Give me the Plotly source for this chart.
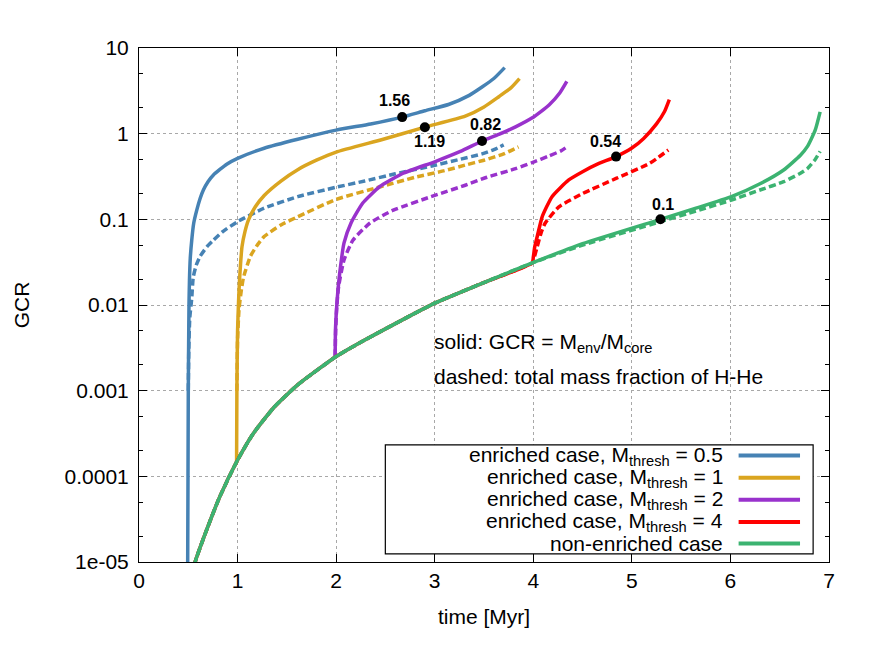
import math
import plotly.graph_objects as go

# ---------------- data (time in Myr, GCR) ----------------
green_x = [0.55, 0.57, 0.69, 0.82, 1.0, 1.16, 1.37, 1.61, 2.0, 2.29, 3.0, 3.48, 3.99,
           4.5, 5.29, 5.65, 6.01, 6.3, 6.54, 6.71, 6.78, 6.86, 6.91]
green_solid_y = [7e-6, 1e-5, 2.43e-5, 5.8e-5, 1.55e-4, 3.17e-4, 6.4e-4, 0.00117, 0.0025,
                 0.0039, 0.0105, 0.0179, 0.031, 0.052, 0.1, 0.135, 0.184, 0.26, 0.377, 0.56,
                 0.705, 1.1, 1.8]
green_dash_y = [7e-6, 1e-5, 2.43e-5, 5.8e-5, 1.55e-4, 3.17e-4, 6.4e-4, 0.00117, 0.0025,
                0.0039, 0.0105, 0.0179, 0.031, 0.050, 0.094, 0.125, 0.168, 0.22, 0.275, 0.345,
                0.39, 0.50, 0.62]

blue_solid_x = [0.49, 0.494, 0.50, 0.507, 0.512, 0.52, 0.535, 0.555, 0.586, 0.62, 0.653, 0.70,
                0.755, 0.89, 1.0, 1.27, 1.61, 2.0, 2.35, 2.67, 2.9, 3.14, 3.35, 3.48, 3.6, 3.71]
blue_solid_y = [5e-6, 1e-5, 0.001, 0.01, 0.0196, 0.035, 0.057, 0.09, 0.128, 0.175, 0.22, 0.275,
                0.33, 0.44, 0.515, 0.676, 0.86, 1.10, 1.3, 1.56, 1.85, 2.19, 2.8, 3.5, 4.4, 5.9]
blue_dash_x = [0.50, 0.505, 0.515, 0.535, 0.55, 0.58, 0.62, 0.69, 0.755, 0.85, 1.0, 1.27, 1.61,
               2.0, 2.29, 2.6, 2.97, 3.25, 3.48, 3.6, 3.70]
blue_dash_y = [0.001, 0.003, 0.007, 0.012, 0.021, 0.029, 0.037, 0.048, 0.057, 0.072, 0.094, 0.135,
               0.184, 0.237, 0.28, 0.34, 0.42, 0.5, 0.58, 0.65, 0.74]

yellow_solid_x = [0.99, 0.993, 1.0, 1.01, 1.02, 1.045, 1.075, 1.11, 1.18, 1.27, 1.44, 1.61, 1.8,
                  2.0, 2.46, 2.90, 3.31, 3.5, 3.65, 3.77, 3.86]
yellow_solid_y = [1.5e-4, 0.001, 0.005, 0.011, 0.0196, 0.048, 0.072, 0.098, 0.14, 0.19, 0.28,
                  0.38, 0.49, 0.61, 0.85, 1.19, 1.6, 2.05, 2.7, 3.4, 4.4]
yellow_dash_x = [0.993, 1.0, 1.015, 1.035, 1.06, 1.13, 1.2, 1.27, 1.44, 1.61, 2.0, 2.45, 2.80,
                 3.1, 3.31, 3.5, 3.7, 3.85]
yellow_dash_y = [0.001, 0.004, 0.009, 0.014, 0.021, 0.037, 0.05, 0.063, 0.086, 0.107, 0.171, 0.24,
                 0.31, 0.37, 0.43, 0.49, 0.58, 0.70]

purple_solid_x = [1.99, 1.993, 2.0, 2.01, 2.04, 2.08, 2.15, 2.27, 2.44, 2.68, 3.0, 3.26, 3.48,
                  3.65, 3.82, 3.99, 4.16, 4.27, 4.34]
purple_solid_y = [0.0025, 0.005, 0.0075, 0.0114, 0.0256, 0.053, 0.09, 0.155, 0.24, 0.345, 0.47,
                  0.62, 0.82, 0.98, 1.2, 1.53, 2.16, 3.0, 4.07]
purple_dash_x = [1.99, 1.995, 2.005, 2.025, 2.08, 2.17, 2.34, 2.58, 3.0, 3.31, 3.53, 3.82, 3.99,
                 4.16, 4.28, 4.34]
purple_dash_y = [0.0025, 0.005, 0.009, 0.0164, 0.0336, 0.057, 0.09, 0.128, 0.19, 0.25, 0.31,
                 0.39, 0.46, 0.55, 0.63, 0.70]

red_solid_x = green_x[:13] + [4.0, 4.015, 4.04, 4.09, 4.19, 4.36, 4.5, 4.65, 4.84, 5.0, 5.12,
                              5.25, 5.33, 5.38]
red_solid_y = green_solid_y[:13] + [0.036, 0.048, 0.063, 0.107, 0.184, 0.288, 0.36, 0.44, 0.54,
                                    0.68, 0.88, 1.3, 1.8, 2.5]
red_dash_x = green_x[:13] + [4.01, 4.04, 4.08, 4.12, 4.26, 4.50, 4.84, 5.18, 5.37]
red_dash_y = green_dash_y[:13] + [0.036, 0.048, 0.07, 0.09, 0.14, 0.20, 0.30, 0.45, 0.645]

mark_x = [2.67, 2.90, 3.48, 4.84, 5.29]
mark_y = [1.56, 1.19, 0.82, 0.54, 0.1]
mark_text = ["1.56", "1.19", "0.82", "0.54", "0.1"]

legend_labels = ["enriched case, M<sub>thresh</sub> = 0.5",
                 "enriched case, M<sub>thresh</sub> = 1",
                 "enriched case, M<sub>thresh</sub> = 2",
                 "enriched case, M<sub>thresh</sub> = 4",
                 "non-enriched case"]

x_ticks = [0, 1, 2, 3, 4, 5, 6, 7]
y_ticks = [1e-5, 1e-4, 1e-3, 1e-2, 1e-1, 1, 10]
y_ticktext = ["1e-05", "0.0001", "0.001", "0.01", "0.1", "1", "10"]

# ---------------- style ----------------
BLUE, YELLOW, PURPLE, RED, GREEN = "#4682b4", "#daa520", "#9932cc", "#ff0000", "#3cb371"
colors = [BLUE, YELLOW, PURPLE, RED, GREEN]
FONT = "Liberation Sans, Arial, sans-serif"
FS = 21
LW = 3.5
DASH = "7px,3.5px"

fig = go.Figure()

def add(x, y, color, dashed):
    fig.add_trace(go.Scatter(
        x=x, y=y, mode="lines", showlegend=False, hoverinfo="skip",
        line=dict(color=color, width=LW, dash=DASH if dashed else "solid",
                  shape="spline", smoothing=0.5)))

add(blue_solid_x, blue_solid_y, BLUE, False)
add(blue_dash_x, blue_dash_y, BLUE, True)
add(yellow_solid_x, yellow_solid_y, YELLOW, False)
add(yellow_dash_x, yellow_dash_y, YELLOW, True)
add(purple_solid_x, purple_solid_y, PURPLE, False)
add(purple_dash_x, purple_dash_y, PURPLE, True)
add(red_solid_x, red_solid_y, RED, False)
add(red_dash_x, red_dash_y, RED, True)
add(green_x, green_dash_y, GREEN, True)
add(green_x, green_solid_y, GREEN, False)

fig.add_trace(go.Scatter(x=mark_x, y=mark_y, mode="markers", showlegend=False,
                         marker=dict(color="black", size=10), hoverinfo="skip"))

# marker labels (log axis: annotation y given as log10)
offsets = [(-8, 17), (5, -14), (3, 17), (-11, 15), (3, 15)]
for xv, yv, t, (dx, dy) in zip(mark_x, mark_y, mark_text, offsets):
    fig.add_annotation(x=xv, y=math.log10(yv), xref="x", yref="y", text="<b>%s</b>" % t,
                       showarrow=False, xshift=dx, yshift=dy,
                       font=dict(family=FONT, size=16, color="black"))

# explanatory text
fig.add_annotation(xref="paper", yref="paper", x=0.424, y=0.426, xanchor="left", yanchor="middle",
                   text="solid: GCR = M<sub>env</sub>/M<sub>core</sub>", showarrow=False,
                   font=dict(family=FONT, size=FS, color="black"))
fig.add_annotation(xref="paper", yref="paper", x=0.424, y=0.36, xanchor="left", yanchor="middle",
                   text="dashed: total mass fraction of H-He", showarrow=False,
                   font=dict(family=FONT, size=FS, color="black"))

# custom legend (gnuplot style: text right-aligned, sample on the right)
fig.add_shape(type="rect", xref="paper", yref="paper", x0=0.357, x1=0.977, y0=0.016, y1=0.228,
              line=dict(color="black", width=1.2), fillcolor="white", layer="above")
entry_y = [0.207, 0.164, 0.121, 0.078, 0.036]
for lab, col, ey in zip(legend_labels, colors, entry_y):
    fig.add_annotation(xref="paper", yref="paper", x=0.849, y=ey, xanchor="right", yanchor="middle",
                       text=lab, showarrow=False, font=dict(family=FONT, size=FS, color="black"))
    fig.add_shape(type="line", xref="paper", yref="paper", x0=0.869, x1=0.958, y0=ey, y1=ey,
                  line=dict(color=col, width=4), layer="above")

axis_common = dict(showline=True, linecolor="black", linewidth=1, mirror="ticks",
                   ticks="inside", tickcolor="black", ticklen=8, tickwidth=1,
                   showgrid=True, gridcolor="#a8a8a8", griddash="dot", gridwidth=1,
                   zeroline=False, tickfont=dict(family=FONT, size=FS, color="black"))

fig.update_xaxes(range=[0, 7], tickvals=x_ticks,
                 title=dict(text="time [Myr]", font=dict(family=FONT, size=FS, color="black"), standoff=18),
                 **axis_common)
fig.update_yaxes(type="log", range=[-5, 1], tickvals=y_ticks, ticktext=y_ticktext,
                 ticklabelstandoff=5,
                 minor=dict(ticks="inside", ticklen=4, tickcolor="black", dtick="D2", showgrid=False),
                 title=dict(text="GCR", font=dict(family=FONT, size=FS, color="black"), standoff=29),
                 **axis_common)

# page body has an 8px margin, so margins are reduced by 8 on the left/top
fig.update_layout(width=872, height=654, plot_bgcolor="white", paper_bgcolor="white",
                  margin=dict(l=131, r=51, t=40, b=100), showlegend=False,
                  font=dict(family=FONT, size=FS, color="black"))

fig.write_html("out.html")
